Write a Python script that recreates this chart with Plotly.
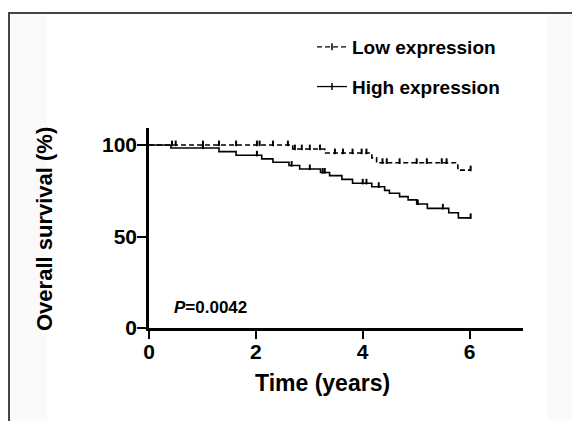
import plotly.graph_objects as go

# ---- data ----
low_event_times = [2.69, 3.29, 4.17, 4.26, 5.78]
low_event_surv = [97.8, 95.6, 93.0, 90.3, 86.3]
low_censor_times = [0.43, 0.50, 1.01, 1.31, 1.63, 2.02, 2.07, 2.32, 2.60, 2.73, 2.86,
                    3.01, 3.20, 3.48, 3.63, 3.81, 3.98, 4.07, 4.37, 4.45, 4.69, 5.01,
                    5.20, 5.48, 5.57, 6.02]

high_event_times = [0.41, 1.31, 1.63, 2.11, 2.32, 2.62, 2.82, 3.21, 3.38, 3.61, 3.81,
                    4.17, 4.41, 4.50, 4.69, 4.85, 5.01, 5.21, 5.61, 5.79]
high_event_surv = [98.4, 96.4, 94.4, 92.4, 90.6, 88.8, 86.9, 85.0, 83.3, 81.2, 79.1,
                   77.2, 75.2, 73.6, 71.8, 70.0, 67.8, 65.4, 63.0, 60.2]
high_censor_times = [1.01, 2.02, 2.67, 3.01, 3.25, 3.29, 4.00, 4.07, 4.30, 5.03, 5.50, 6.02]

group_names = ["Low expression", "High expression"]
x_ticks = [0, 2, 4, 6]
y_ticks = [0, 50, 100]
p_text = "<i>P</i>=0.0042"
x_title = "Time (years)"
y_title = "Overall survival (%)"


def surv_at(t, times, surv):
    s = 100.0
    for ti, si in zip(times, surv):
        if ti <= t:
            s = si
    return s


def step_data(times, surv, censor):
    xs = [0.0] + list(times)
    ys = [100.0] + list(surv)
    end = max(censor)
    xs.append(end)
    ys.append(surv_at(end, times, surv))
    return xs, ys


FONT = "Liberation Sans, Arial, Helvetica, sans-serif"
fig = go.Figure()

TICK_LIFT = 0.9  # censor ticks sit just above the curve

groups = [
    (low_event_times, low_event_surv, low_censor_times, "5px,3px"),
    (high_event_times, high_event_surv, high_censor_times, "solid"),
]
for name, (et, es, ct, dash) in zip(group_names, groups):
    xs, ys = step_data(et, es, ct)
    fig.add_trace(go.Scatter(x=xs, y=ys, mode="lines", line=dict(color="black", width=1.6, dash=dash, shape="hv"),
                             showlegend=False, hoverinfo="skip"))
    fig.add_trace(go.Scatter(x=ct, y=[surv_at(t, et, es) + TICK_LIFT for t in ct], mode="markers",
                             marker=dict(symbol="line-ns", size=4, line=dict(color="black", width=2)),
                             showlegend=False, hoverinfo="skip"))
    fig.add_trace(go.Scatter(x=[None], y=[None], mode="lines+markers", name=name, legendgroup=name,
                             line=dict(color="black", width=1.3, dash=dash),
                             marker=dict(symbol="line-ns", size=5, line=dict(color="black", width=1.5))))

# pixel layout helpers (page body adds an 8px offset)
OFF = 8
W, H = 580, 421
L, R, T, B = 149 - OFF, 523 - OFF, 128 - OFF, 328 - OFF


def px(x):
    return (x - OFF - L) / (R - L)


def py(y):
    return (B - (y - OFF)) / (B - T)


shapes = [
    dict(type="rect", xref="paper", yref="paper", x0=px(10), x1=px(47), y0=py(14), y1=py(430),
         fillcolor="#fafafa", line=dict(width=0), layer="below"),
    dict(type="rect", xref="paper", yref="paper", x0=px(547), x1=px(590), y0=py(14), y1=py(430),
         fillcolor="#fafafa", line=dict(width=0), layer="below"),
    dict(type="line", xref="paper", yref="paper", x0=px(8), x1=px(590), y0=py(13), y1=py(13),
         line=dict(color="#444444", width=2)),
    dict(type="line", xref="paper", yref="paper", x0=px(9), x1=px(9), y0=py(13), y1=py(430),
         line=dict(color="#444444", width=2)),
]

annotations = [
    dict(text=p_text, xref="x", yref="y", x=0.43, y=11, xanchor="left", yanchor="middle",
         showarrow=False, font=dict(family=FONT, size=17, color="black", weight="bold")),
    dict(text=x_title, xref="paper", yref="paper", x=px(322), y=py(383), xanchor="center", yanchor="middle",
         showarrow=False, font=dict(family=FONT, size=23, color="black", weight="bold")),
    dict(text=y_title, xref="paper", yref="paper", x=px(44), y=py(229), xanchor="center", yanchor="middle",
         textangle=-90, showarrow=False, font=dict(family=FONT, size=22, color="black", weight="bold")),
]

fig.update_layout(
    width=W, height=H,
    margin=dict(l=L, r=W - R, t=T, b=H - B, autoexpand=False),
    paper_bgcolor="white", plot_bgcolor="white",
    shapes=shapes, annotations=annotations,
    legend=dict(x=px(312), y=py(28), xanchor="left", yanchor="top", tracegroupgap=12,
                font=dict(family=FONT, size=19, color="black", weight="bold"),
                bgcolor="rgba(0,0,0,0)", itemwidth=30),
    xaxis=dict(range=[0, 7], tickvals=x_ticks, showgrid=False, zeroline=False,
               showline=True, linecolor="black", linewidth=2.5,
               ticks="outside", ticklen=8, tickwidth=2, tickcolor="black", automargin=False,
               ticklabelstandoff=-5,
               tickfont=dict(family=FONT, size=21, color="black", weight="bold")),
    yaxis=dict(range=[0, 109.3], tickvals=y_ticks, showgrid=False, zeroline=False,
               showline=True, linecolor="black", linewidth=2.5,
               ticks="outside", ticklen=9, tickwidth=2, tickcolor="black", automargin=False,
               ticklabelstandoff=-4,
               tickfont=dict(family=FONT, size=21, color="black", weight="bold")),
)

fig.write_html("out.html")
